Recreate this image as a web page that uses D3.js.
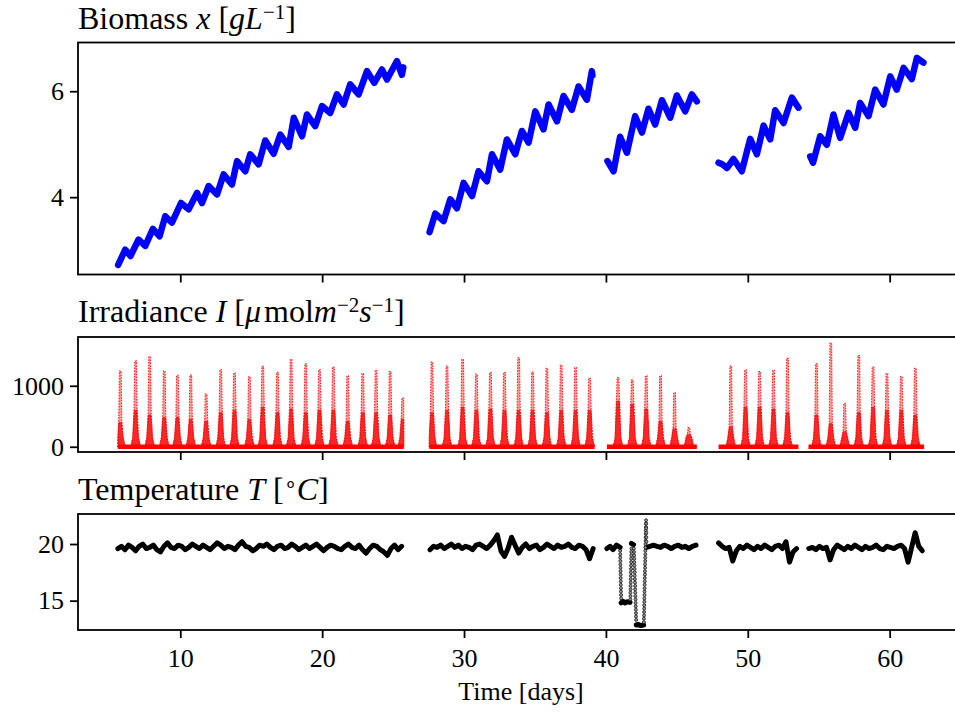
<!DOCTYPE html>
<html><head><meta charset="utf-8">
<script src="https://cdn.jsdelivr.net/npm/d3@7"></script>
<style>body{margin:0;background:#fff} svg{display:block;font-family:"Liberation Serif","Times New Roman",serif}</style>
</head><body>
<svg id="c" width="955" height="713"></svg>
<script>
// ---------------- DATA ----------------
const xTicks = [10, 20, 30, 40, 50, 60];
const biomassTicks = [4, 6];
const irrTicks = [0, 1000];
const tempTicks = [15, 20];

// Biomass [t (days), x (g/L)] per continuous segment
const bio1 = [[5.62,2.72],[6.12,3.01],[6.49,2.89],[7.06,3.20],[7.53,3.08],[8.07,3.40],[8.54,3.26],[8.94,3.64],[9.41,3.52],[10.05,3.89],[10.59,3.77],[11.18,4.08],[11.53,3.89],[12.0,4.21],[12.59,4.05],[13.05,4.43],[13.64,4.24],[14.0,4.68],[14.58,4.49],[14.93,4.81],[15.52,4.62],[15.99,5.07],[16.58,4.82],[17.05,5.18],[17.64,4.95],[18.0,5.50],[18.58,5.15],[18.93,5.56],[19.51,5.34],[19.99,5.72],[20.57,5.59],[21.04,5.94],[21.51,5.75],[21.98,6.13],[22.57,5.94],[23.16,6.38],[23.67,6.16],[24.21,6.41],[24.57,6.22],[25.27,6.57],[25.62,6.31],[25.72,6.45]];
const bio2 = [[27.57,3.34],[27.97,3.69],[28.56,3.55],[29.03,3.96],[29.5,3.79],[29.97,4.27],[30.56,4.02],[31.02,4.49],[31.61,4.30],[31.97,4.81],[32.55,4.52],[33.02,5.09],[33.61,4.81],[34.08,5.25],[34.55,5.03],[35.02,5.62],[35.6,5.28],[35.96,5.75],[36.55,5.43],[37.01,5.91],[37.6,5.65],[38.07,6.09],[38.66,5.84],[39.01,6.38],[39.05,6.30]];
const bio3 = [[40.11,4.68],[40.54,4.49],[41.0,5.14],[41.48,4.84],[42.06,5.53],[42.54,5.22],[43.0,5.67],[43.47,5.37],[43.95,5.83],[44.53,5.50],[45.0,5.92],[45.59,5.62],[46.06,5.94],[46.41,5.81]];
const bio4 = [[47.94,4.65],[48.2,4.62],[48.53,4.55],[48.99,4.72],[49.58,4.49],[50.17,5.10],[50.64,4.81],[51.11,5.35],[51.58,5.09],[51.93,5.64],[52.52,5.40],[53.11,5.88],[53.57,5.69]];
const bio5 = [[54.4,4.77],[54.6,4.65],[55.1,5.15],[55.57,4.99],[56.04,5.56],[56.51,5.12],[57.1,5.59],[57.57,5.31],[57.92,5.78],[58.51,5.53],[58.98,6.03],[59.56,5.75],[60.04,6.28],[60.5,6.03],[60.98,6.44],[61.56,6.23],[61.92,6.63],[62.38,6.54]];

// Irradiance: measured segments, daily peak time, daily peak value, top of the dense part
const irrSegments = [[5.6,25.75],[27.55,39.2],[40.07,46.41],[47.94,53.57],[54.28,62.43]];
const irrPeakT = [5.77,6.85,7.84,8.87,9.8,10.74,11.82,12.85,13.82,14.87,15.81,16.85,17.81,18.84,19.81,20.79,21.8,22.86,23.8,24.79,25.68,
  27.74,28.8,29.9,30.87,31.86,32.85,33.85,34.83,35.84,36.85,37.86,38.85,
  40.85,41.86,42.84,43.85,44.84,45.85,
  48.8,49.84,50.83,51.81,52.8,
  54.84,55.85,56.83,57.82,58.83,59.81,60.82,61.81];
const irrPeak = [1243,1405,1475,1243,1173,1178,865,1264,1210,1146,1319,1221,1432,1361,1264,1308,1162,1200,1254,1232,800,
  1389,1324,1432,1189,1216,1216,1459,1227,1286,1335,1297,1124,
  1135,1092,1162,1162,886,314,
  1324,1259,1232,1254,1449,
  1361,1702,713,1497,1308,1200,1151,1286];
const irrCore = [400,600,520,480,480,450,420,560,600,450,650,560,620,560,600,600,420,560,560,520,450,
  560,600,650,600,620,600,600,600,560,600,600,600,
  750,700,620,420,300,200,
  330,650,650,620,560,
  520,380,250,560,650,600,600,520];

// Temperature: regularly sampled segments (start, step, values in °C)
const temp1Start = 5.6, temp1Step = 0.25;
const temp1 = [19.6,19.8,19.5,19.9,19.7,19.4,19.8,20.0,19.6,19.7,19.9,19.5,19.3,19.8,20.1,19.7,19.6,19.9,19.8,19.5,
  19.7,20.0,19.8,19.6,19.9,19.7,19.5,19.8,20.1,19.9,19.6,19.8,19.7,19.5,19.9,20.2,19.8,19.7,19.4,19.6,
  19.9,19.8,20.0,19.7,19.5,19.8,19.9,19.6,19.7,20.0,19.8,19.5,19.7,19.9,19.6,19.8,20.0,19.7,19.4,19.7,
  19.9,19.8,19.6,19.5,19.8,20.0,19.7,19.6,19.9,19.5,19.2,19.6,19.9,19.8,19.5,19.3,19.0,19.6,19.9,19.5,19.8];
const temp2Start = 27.6, temp2Step = 0.25;
const temp2 = [19.5,19.8,19.7,19.9,19.6,19.8,20.0,19.7,19.9,19.6,19.8,19.7,19.5,19.9,20.0,19.8,19.6,19.9,20.3,20.8,
  19.4,18.9,19.6,20.6,19.9,19.2,19.7,20.0,19.6,19.8,19.9,19.5,19.7,20.0,19.8,19.6,19.9,19.7,19.8,20.0,
  19.7,19.6,19.9,19.8,19.5,18.7,19.6];
const temp3a = [[40.07,19.6],[40.3,19.8],[40.5,19.5],[40.75,19.9],[41.0,19.7]];
const temp3b = [[41.07,14.8],[41.2,14.95],[41.35,14.8],[41.5,14.9],[41.7,14.85]];
const temp3c = [[41.8,20.05],[41.95,19.95]];
const temp3d = [[42.14,12.85],[42.3,12.9],[42.45,12.8],[42.66,12.85]];
const temp3eStart = 42.85, temp3eStep = 0.25;
const temp3e = [19.7,19.8,19.9,19.8,19.7,19.9,19.8,19.6,19.8,19.9,19.7,19.8,19.6,19.8,19.9];
const temp4Start = 47.94, temp4Step = 0.25;
const temp4 = [20.1,19.8,19.6,19.7,18.5,19.4,19.8,19.6,19.9,19.7,19.5,19.8,19.6,19.9,19.7,19.5,19.8,19.9,19.6,20.2,18.4,19.3,19.6];
const temp5Start = 54.3, temp5Step = 0.25;
const temp5 = [19.6,19.7,19.5,19.8,19.6,19.7,18.6,19.5,19.9,19.7,19.5,19.8,19.6,19.9,19.7,19.5,19.8,19.6,19.7,19.9,19.6,19.5,19.8,19.7,19.6,19.8,19.9,19.6,18.4,19.7,21.0,19.8,19.4];
// sparse readings during the fast transitions
const tempDots = [
  [41.0,19.4],[41.01,19.1],[41.01,18.8],[41.02,18.5],[41.02,18.2],[41.03,17.9],[41.03,17.6],[41.04,17.3],[41.04,17.0],[41.05,16.7],[41.05,16.4],[41.06,16.1],[41.06,15.8],[41.07,15.5],[41.07,15.2],
  [41.72,15.1],[41.73,15.4],[41.73,15.7],[41.74,16.0],[41.74,16.3],[41.75,16.6],[41.75,16.9],[41.76,17.2],[41.76,17.5],[41.77,17.8],[41.77,18.1],[41.78,18.4],[41.78,18.7],[41.79,19.0],[41.79,19.3],[41.8,19.6],
  [41.97,19.6],[41.98,19.3],[41.99,19.0],[42.0,18.7],[42.0,18.4],[42.01,18.1],[42.02,17.8],[42.03,17.5],[42.03,17.2],[42.04,16.9],[42.05,16.6],[42.06,16.3],[42.06,16.0],[42.07,15.7],[42.08,15.4],[42.09,15.1],[42.09,14.8],[42.1,14.5],[42.11,14.2],[42.12,13.9],[42.12,13.6],[42.13,13.3],
  [42.68,13.1],[42.68,13.4],[42.69,13.7],[42.69,14.0],[42.7,14.3],[42.7,14.6],[42.71,14.9],[42.71,15.2],[42.72,15.5],[42.72,15.8],[42.73,16.1],[42.73,16.4],[42.74,16.7],[42.74,17.0],[42.75,17.3],[42.75,17.6],[42.76,17.9],[42.76,18.2],[42.77,18.5],[42.77,18.8],[42.78,19.1],[42.78,19.4],[42.79,19.7],[42.79,20.0],[42.8,20.3],[42.8,20.6],[42.81,20.9],[42.81,21.2],[42.82,21.5],[42.82,21.8],[42.83,22.1],
  [42.84,21.8],[42.84,21.4],[42.85,21.0],[42.85,20.6],[42.86,20.2]
];

// ---------------- LAYOUT ----------------
const svg = d3.select("#c");
const FONT = '"Liberation Serif","Times New Roman",serif';
const TICK_FS = "26px";
const left = 78, right = 964;
const x = d3.scaleLinear().domain([2.79, 65.24]).range([left, right]);
const panels = [
  {top: 42.5, bottom: 274.5, domain: [2.54, 6.92], ticks: biomassTicks},
  {top: 337, bottom: 452, domain: [-86, 1800], ticks: irrTicks},
  {top: 514, bottom: 630, domain: [12.41, 22.65], ticks: tempTicks}
];
panels.forEach((p, i) => {
  p.y = d3.scaleLinear().domain(p.domain).range([p.bottom, p.top]);
  svg.append("clipPath").attr("id", "clip" + i).append("rect")
    .attr("x", left).attr("y", p.top).attr("width", right - left).attr("height", p.bottom - p.top);
  p.g = svg.append("g").attr("clip-path", `url(#clip${i})`);
});

// ---------- Biomass ----------
const y1 = panels[0].y;
const bioLine = d3.line().x(d => x(d[0])).y(d => y1(d[1]));
[bio1, bio2, bio3, bio4, bio5].forEach(seg => {
  panels[0].g.append("path").attr("d", bioLine(seg)).attr("fill", "none")
    .attr("stroke", "#0000ff").attr("stroke-width", 6.5).attr("stroke-linejoin", "round").attr("stroke-linecap", "round");
});

// ---------- Irradiance ----------
const y2 = panels[1].y;
const irrArea = d3.area().x(d => x(d[0])).y0(y2(0)).y1(d => y2(d[1]));
irrPeakT.forEach((tc, i) => {
  const seg = irrSegments.find(s => tc >= s[0] - 0.3 && tc <= s[1] + 0.3);
  const cl = t => Math.max(seg[0], Math.min(seg[1], t));
  const p = irrPeak[i], c = irrCore[i];
  const full = [[-0.42,0],[-0.3,40],[-0.2,150],[-0.11,c],[-0.06,p],[0.06,p],[0.11,c],[0.2,150],[0.3,40],[0.42,0]]
    .map(d => [cl(tc + d[0]), d[1]]);
  const core = [[-0.42,0],[-0.3,40],[-0.2,150],[-0.1,c],[0.1,c],[0.2,150],[0.3,40],[0.42,0]]
    .map(d => [cl(tc + d[0]), d[1]]);
  panels[1].g.append("path").attr("d", irrArea(full))
    .attr("fill", "rgba(255,0,0,0.4)").attr("stroke", "#ff2020").attr("stroke-width", 1.1)
    .attr("stroke-dasharray", "1.5,1.3");
  panels[1].g.append("path").attr("d", irrArea(core))
    .attr("fill", "rgba(255,0,0,0.75)").attr("stroke", "#ff0000").attr("stroke-width", 0.8)
    .attr("stroke-dasharray", "2,1");
});
irrSegments.forEach(s => {
  panels[1].g.append("line").attr("x1", x(s[0])).attr("x2", x(s[1]))
    .attr("y1", y2(0)).attr("y2", y2(0)).attr("stroke", "#ff0000").attr("stroke-width", 4.5);
});

// ---------- Temperature ----------
const y3 = panels[2].y;
const tLine = d3.line().x(d => x(d[0])).y(d => y3(d[1]));
const reg = (start, step, vals) => vals.map((v, i) => [start + i * step, v]);
[reg(temp1Start, temp1Step, temp1), reg(temp2Start, temp2Step, temp2), temp3a, temp3b, temp3c, temp3d,
 reg(temp3eStart, temp3eStep, temp3e), reg(temp4Start, temp4Step, temp4), reg(temp5Start, temp5Step, temp5)]
 .forEach(seg => {
  panels[2].g.append("path").attr("d", tLine(seg)).attr("fill", "none")
    .attr("stroke", "#000").attr("stroke-width", 5).attr("stroke-linejoin", "round").attr("stroke-linecap", "round");
 });
panels[2].g.selectAll("circle.dot").data(tempDots).join("circle")
  .attr("cx", d => x(d[0])).attr("cy", d => y3(d[1])).attr("r", 1.5)
  .attr("fill", "#999").attr("stroke", "#000").attr("stroke-width", 0.7);

// ---------- Axes ----------
panels.forEach((p, i) => {
  const ya = svg.append("g").attr("transform", `translate(${left},0)`)
    .call(d3.axisLeft(p.y).tickValues(p.ticks).tickSize(8).tickPadding(6).tickFormat(d3.format("d")));
  const xa = svg.append("g").attr("transform", `translate(0,${p.bottom})`)
    .call(d3.axisBottom(x).tickValues(xTicks).tickSize(8).tickPadding(11)
      .tickFormat(i === 2 ? d3.format("d") : () => ""));
  [ya, xa].forEach(a => {
    a.select(".domain").remove();
    a.selectAll(".tick line").attr("stroke", "#000").attr("stroke-width", 1.8);
    a.selectAll(".tick text").attr("fill", "#000").style("font-family", FONT).style("font-size", TICK_FS);
  });
  svg.append("rect").attr("x", left).attr("y", p.top).attr("width", right - left).attr("height", p.bottom - p.top)
    .attr("fill", "none").attr("stroke", "#000").attr("stroke-width", 1.8);
});

// ---------- Titles ----------
function title(yBase, parts) {
  const t = svg.append("text").attr("x", left).attr("y", yBase)
    .style("font-family", FONT).style("font-size", "32px").attr("fill", "#000");
  parts.forEach(pt => {
    const s = t.append("tspan").text(pt.t);
    if (pt.i) s.style("font-style", "italic");
    if (pt.sup) s.attr("baseline-shift", "10px").style("font-size", "21px");
    if (pt.dx) s.attr("dx", pt.dx);
  });
}
title(29, [{t: "Biomass "}, {t: "x", i: 1}, {t: " ["}, {t: "gL", i: 1}, {t: "\u22121", sup: 1}, {t: "]"}]);
title(322, [{t: "Irradiance "}, {t: "I", i: 1}, {t: " ["}, {t: "\u03bc", i: 1}, {t: "mol", dx: 3}, {t: "m", i: 1}, {t: "\u22122", sup: 1}, {t: "s", i: 1}, {t: "\u22121", sup: 1}, {t: "]"}]);
title(500, [{t: "Temperature "}, {t: "T", i: 1}, {t: " ["}, {t: "\u2218", sup: 1}, {t: "C", i: 1}, {t: "]"}]);

svg.append("text").attr("x", 521).attr("y", 700).attr("text-anchor", "middle")
  .style("font-family", FONT).style("font-size", TICK_FS).text("Time [days]");
</script></body></html>
